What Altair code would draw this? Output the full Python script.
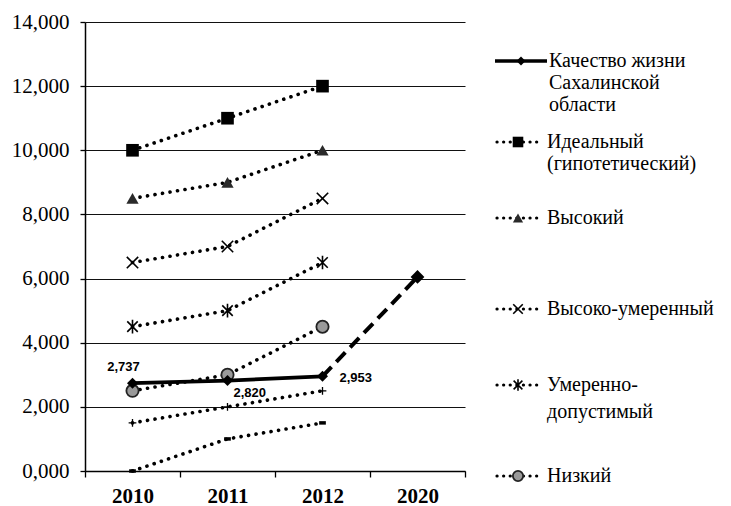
import altair as alt
import pandas as pd

# ---------------- data ----------------
years = ["2010", "2011", "2012", "2020"]
base_years = ["2010", "2011", "2012"]
quality = [2737, 2820, 2953]
quality_forecast_years = ["2012", "2020"]
quality_forecast = [2953, 6050]
quality_labels = ["2,737", "2,820", "2,953"]
ideal = [10000, 11000, 12000]
high = [8500, 9000, 10000]
high_moderate = [6500, 7000, 8500]
moderate = [4500, 5000, 6500]
low = [2500, 3000, 4500]
extra_plus = [1500, 2000, 2500]
extra_dash = [0, 1000, 1500]
y_ticks = [0, 2000, 4000, 6000, 8000, 10000, 12000, 14000]

series_names = ["Идеальный", "Высокий", "Высоко-умеренный", "Умеренно-допустимый",
                "Низкий", "доп1", "доп2"]
series_values = [ideal, high, high_moderate, moderate, low, extra_plus, extra_dash]

# ---------------- styles ----------------
SERIF = "Times New Roman"
BLACK = "black"
X_PATH = "M-1,-1L1,1M-1,1L1,-1"
STAR_PATH = "M-1,-1L1,1M-1,1L1,-1M0,-1.3L0,1.3"
PLUS_PATH = "M-1,0L1,0M0,-1L0,1"
DASH_PATH = "M-1,0L1,0"

marker_styles = {
    "Идеальный": dict(shape="square", filled=True, fill=BLACK, size=160, opacity=1),
    "Высокий": dict(shape="triangle-up", filled=True, fill="#2a2a2a", size=150, opacity=1),
    "Высоко-умеренный": dict(shape=X_PATH, filled=False, stroke=BLACK, strokeWidth=1.6, size=130, opacity=1),
    "Умеренно-допустимый": dict(shape=STAR_PATH, filled=False, stroke=BLACK, strokeWidth=1.6, size=110, opacity=1),
    "Низкий": dict(shape="circle", filled=True, fill="#9a9a9a", stroke="#222222", strokeWidth=1.8, size=150, opacity=1),
    "доп1": dict(shape=PLUS_PATH, filled=False, stroke=BLACK, strokeWidth=1.3, size=60, opacity=1),
    "доп2": dict(shape=DASH_PATH, filled=False, stroke=BLACK, strokeWidth=3.5, size=45, opacity=1),
}
quality_marker = dict(shape="diamond", filled=True, fill=BLACK, size=120, opacity=1)

rows = []
for name, vals in zip(series_names, series_values):
    for yr, v in zip(base_years, vals):
        rows.append({"series": name, "year": yr, "value": v})
dotted_df = pd.DataFrame(rows)
quality_df = pd.DataFrame({"year": base_years, "value": quality, "label": quality_labels})
forecast_df = pd.DataFrame({"year": quality_forecast_years, "value": quality_forecast})

x_enc = alt.X("year:O",
              scale=alt.Scale(type="band", domain=years, paddingInner=0, paddingOuter=0),
              axis=alt.Axis(title=None, labelAngle=0, tickBand="extent", tickSize=6,
                            labelPadding=8, grid=False, labelFont="serif", labelFontSize=21,
                            labelFontWeight="bold"))
y_enc = alt.Y("value:Q",
              scale=alt.Scale(domain=[0, 14000], nice=False),
              axis=alt.Axis(title=None, values=y_ticks, grid=True, tickSize=5, labelPadding=11,
                            labelFont="Liberation Serif", labelFontSize=21,
                            labelExpr="datum.value == 0 ? '0,000' : format(datum.value, ',')"))

layers = []

# dotted series lines
layers.append(
    alt.Chart(dotted_df).mark_line(color=BLACK, strokeWidth=3.6, strokeDash=[0.1, 7.5],
                                   strokeCap="round")
    .encode(x=x_enc, y=y_enc, detail="series:N")
)
# markers for dotted series
for name in series_names:
    st = marker_styles[name]
    layers.append(
        alt.Chart(dotted_df[dotted_df["series"] == name]).mark_point(**st).encode(x=x_enc, y=y_enc)
    )

# quality line (solid) and forecast (dashed)
layers.append(
    alt.Chart(forecast_df).mark_line(color=BLACK, strokeWidth=4, strokeDash=[13, 7])
    .encode(x=x_enc, y=y_enc)
)
layers.append(
    alt.Chart(quality_df).mark_line(color=BLACK, strokeWidth=3.8).encode(x=x_enc, y=y_enc)
)
layers.append(alt.Chart(quality_df).mark_point(**quality_marker).encode(x=x_enc, y=y_enc))
layers.append(
    alt.Chart(forecast_df[forecast_df["year"] == "2020"])
    .mark_point(shape="diamond", filled=True, fill=BLACK, size=190, opacity=1)
    .encode(x=x_enc, y=y_enc)
)

# value labels
label_offsets = {"2010": dict(dx=-9, dy=-16, align="center"),
                 "2011": dict(dx=6, dy=12, align="left"),
                 "2012": dict(dx=17, dy=2, align="left")}
for yr in base_years:
    off = label_offsets[yr]
    layers.append(
        alt.Chart(quality_df[quality_df["year"] == yr])
        .mark_text(font="Liberation Sans", fontSize=13, fontWeight="bold", color=BLACK,
                   baseline="middle", **off)
        .encode(x=x_enc, y=y_enc, text="label:N")
    )

# ---------------- legend (drawn manually) ----------------
OX, OY = 85, 22  # page position of plot origin
one = pd.DataFrame({"k": [0]})

legend_items = [
    ("quality", [("Качество жизни", 61), ("Сахалинской", 83), ("области", 105)]),
    ("Идеальный", [("Идеальный", 142), ("(гипотетический)", 164)]),
    ("Высокий", [("Высокий", 218)]),
    ("Высоко-умеренный", [("Высоко-умеренный", 309)]),
    ("Умеренно-допустимый", [("Умеренно-", 385), ("допустимый", 412)]),
    ("Низкий", [("Низкий", 476)]),
]

for key, lines in legend_items:
    y0 = lines[0][1] - OY
    if key == "quality":
        layers.append(alt.Chart(one).mark_rule(color=BLACK, strokeWidth=3.5).encode(
            x=alt.value(495 - OX), x2=alt.value(547 - OX), y=alt.value(y0)))
        layers.append(alt.Chart(one).mark_point(shape="diamond", filled=True, fill=BLACK,
                                                size=80, opacity=1).encode(
            x=alt.value(521 - OX), y=alt.value(y0)))
        tx = 549 - OX
    else:
        layers.append(alt.Chart(one).mark_rule(color=BLACK, strokeWidth=3.2, strokeDash=[0.1, 6.5],
                                               strokeCap="round").encode(
            x=alt.value(497 - OX), x2=alt.value(540 - OX), y=alt.value(y0)))
        st = dict(marker_styles[key])
        st["size"] = st["size"] * 0.7
        layers.append(alt.Chart(one).mark_point(**st).encode(
            x=alt.value(518 - OX), y=alt.value(y0)))
        tx = 547 - OX
    for txt, ya in lines:
        layers.append(alt.Chart(one).mark_text(text=txt, align="left", baseline="middle",
                                               font=SERIF, fontSize=20).encode(
            x=alt.value(tx), y=alt.value(ya - OY)))

chart = (
    alt.layer(*layers)
    .properties(width=380, height=449,
                autosize=alt.AutoSizeParams(type="none"),
                padding={"left": 77, "top": 14, "right": 258, "bottom": 35})
    .configure_view(stroke=None)
    .configure_axis(domainColor=BLACK, domainWidth=1.5, tickColor=BLACK, tickWidth=1.3,
                    gridColor="#111111", gridWidth=1.2, labelColor=BLACK)
)

chart.save("out.html", embed_options={"renderer": "svg", "actions": False})
